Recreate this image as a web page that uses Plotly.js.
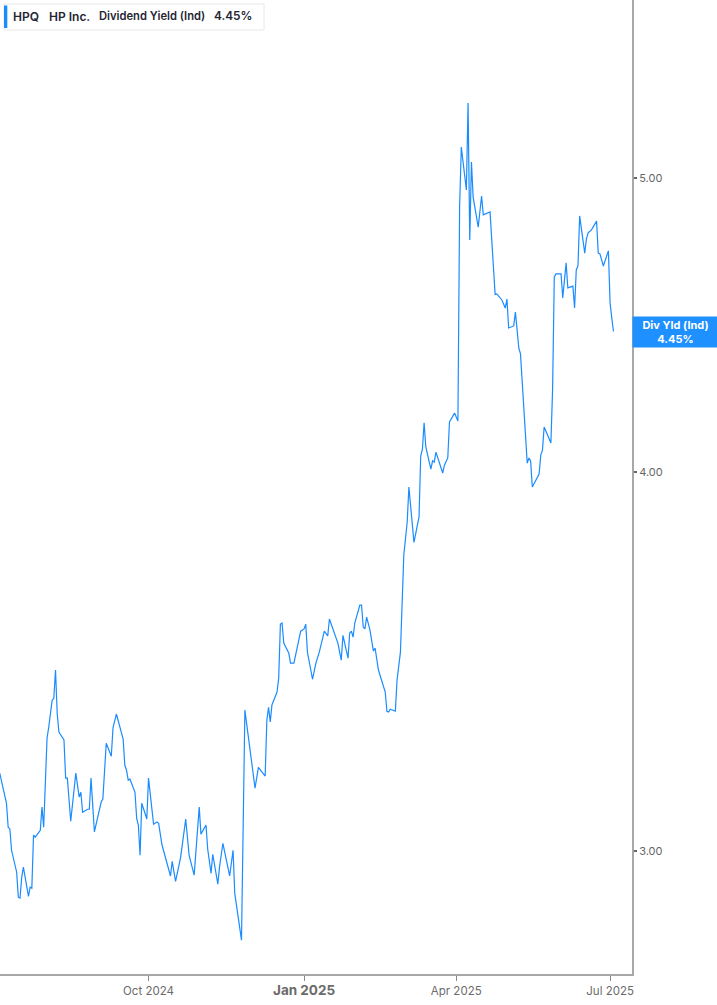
<!DOCTYPE html>
<html>
<head>
<meta charset="utf-8">
<script src="https://cdn.plot.ly/plotly-3.0.1.min.js"></script>
<style>
html,body{margin:0;padding:0;background:#fff;}
#chart{width:717px;height:1005px;}
</style>
</head>
<body>
<div id="chart"></div>
<script>
// Dividend yield (Ind), HPQ, percent
const dates = [
"2024-07-05","2024-07-08","2024-07-09","2024-07-10","2024-07-11","2024-07-12","2024-07-15","2024-07-16","2024-07-17","2024-07-18",
"2024-07-19","2024-07-22","2024-07-23","2024-07-24","2024-07-25","2024-07-26","2024-07-29","2024-07-30","2024-07-31","2024-08-02",
"2024-08-03","2024-08-05","2024-08-06","2024-08-07","2024-08-08","2024-08-09","2024-08-12","2024-08-13","2024-08-14","2024-08-16",
"2024-08-19","2024-08-21","2024-08-22","2024-08-23","2024-08-26","2024-08-27","2024-08-28","2024-08-30","2024-09-02","2024-09-03",
"2024-09-04","2024-09-06","2024-09-09","2024-09-10","2024-09-12","2024-09-14","2024-09-16","2024-09-17","2024-09-18","2024-09-19",
"2024-09-20","2024-09-23","2024-09-24","2024-09-25","2024-09-26","2024-09-27","2024-09-30","2024-10-01","2024-10-04","2024-10-06",
"2024-10-07","2024-10-09","2024-10-12","2024-10-14","2024-10-15","2024-10-17","2024-10-20","2024-10-23","2024-10-25","2024-10-28",
"2024-10-31","2024-11-01","2024-11-04","2024-11-05","2024-11-07","2024-11-08","2024-11-11","2024-11-12","2024-11-14","2024-11-18",
"2024-11-20","2024-11-21","2024-11-25","2024-11-27","2024-12-03","2024-12-05","2024-12-09","2024-12-10","2024-12-11","2024-12-12",
"2024-12-13","2024-12-16","2024-12-17","2024-12-18","2024-12-19","2024-12-20","2024-12-23","2024-12-24","2024-12-26","2024-12-30",
"2025-01-01","2025-01-02","2025-01-03","2025-01-06","2025-01-08","2025-01-10","2025-01-13","2025-01-15","2025-01-16","2025-01-21",
"2025-01-23","2025-01-24","2025-01-27","2025-01-28","2025-01-29","2025-01-30","2025-01-31","2025-02-03","2025-02-04","2025-02-05",
"2025-02-06","2025-02-07","2025-02-09","2025-02-11","2025-02-12","2025-02-14","2025-02-18","2025-02-19","2025-02-20","2025-02-21",
"2025-02-24","2025-02-25","2025-02-27","2025-03-01","2025-03-03","2025-03-04","2025-03-07","2025-03-10","2025-03-11","2025-03-12",
"2025-03-13","2025-03-14","2025-03-17","2025-03-18","2025-03-19","2025-03-20","2025-03-24","2025-03-25","2025-03-27","2025-03-28",
"2025-03-31","2025-04-02","2025-04-03","2025-04-04","2025-04-07","2025-04-08","2025-04-09","2025-04-10","2025-04-11","2025-04-14",
"2025-04-16","2025-04-17","2025-04-21","2025-04-22","2025-04-24","2025-04-25","2025-04-28","2025-04-30","2025-05-01","2025-05-02",
"2025-05-05","2025-05-06","2025-05-08","2025-05-09","2025-05-13","2025-05-14","2025-05-15","2025-05-16","2025-05-20","2025-05-21",
"2025-05-22","2025-05-23","2025-05-27","2025-05-28","2025-05-29","2025-05-30","2025-06-02","2025-06-03","2025-06-05","2025-06-06",
"2025-06-09","2025-06-10","2025-06-11","2025-06-12","2025-06-13","2025-06-16","2025-06-17","2025-06-18","2025-06-20","2025-06-23",
"2025-06-24","2025-06-25","2025-06-27","2025-06-30","2025-07-01","2025-07-02","2025-07-03"
];
const yieldPct = [
3.183,3.126,3.111,3.055,3.051,3.002,2.953,2.897,2.895,2.941,
2.964,2.899,2.919,2.917,3.037,3.032,3.048,3.102,3.055,3.269,
3.296,3.364,3.369,3.442,3.331,3.284,3.264,3.171,3.171,3.069,
3.183,3.126,3.137,3.090,3.097,3.097,3.171,3.044,3.102,3.114,
3.121,3.256,3.224,3.294,3.329,3.294,3.266,3.202,3.190,3.166,
3.169,3.137,3.076,3.060,2.991,3.111,3.074,3.171,3.062,3.067,
3.064,3.014,2.968,2.944,2.977,2.932,2.986,3.074,2.991,2.946,
3.102,3.039,3.060,3.005,2.950,2.993,2.926,2.964,3.018,2.944,
3.002,2.906,2.804,3.339,3.147,3.197,3.176,3.314,3.346,3.309,
3.352,3.385,3.421,3.564,3.567,3.513,3.486,3.460,3.460,3.545,
3.551,3.564,3.489,3.418,3.460,3.489,3.545,3.532,3.578,3.513,
3.468,3.534,3.473,3.540,3.545,3.529,3.567,3.616,3.616,3.556,
3.551,3.583,3.548,3.492,3.500,3.442,3.385,3.336,3.334,3.341,
3.336,3.416,3.489,3.756,3.851,3.955,3.792,3.866,4.049,4.070,
4.152,4.077,4.009,4.034,4.030,4.061,3.997,4.021,4.043,4.155,
4.183,4.158,4.891,5.119,4.955,5.293,4.770,5.061,4.928,4.817,
4.932,4.862,4.873,4.770,4.577,4.579,4.558,4.530,4.561,4.462,
4.469,4.516,4.395,4.375,4.027,4.043,4.034,3.955,3.994,4.052,
4.067,4.139,4.089,4.260,4.638,4.649,4.649,4.565,4.688,4.600,
4.606,4.530,4.663,4.677,4.858,4.723,4.774,4.796,4.807,4.839,
4.723,4.720,4.677,4.731,4.547,4.496,4.45
];
const yTickVals = [3, 4, 5];
const xTickVals = ["2024-10-01","2025-01-01","2025-04-01","2025-07-01"];
const xTickText = ["Oct 2024","<b><span style=\"font-size:13.5px;\">Jan 2025</span></b>","Apr 2025","Jul 2025"];
const ticker = "HPQ";
const company = "HP Inc.";
const metric = "Dividend Yield (Ind)";
const lastLabel = "Div Yld (Ind)";
const lastValue = yieldPct[yieldPct.length - 1];

const W = 632, H = 974; // plot area in px
const px = v => v / W;
const py = v => 1 - v / H;

const trace = {
  x: dates, y: yieldPct, type: 'scatter', mode: 'lines',
  line: {color: '#1a8cff', width: 1.2},
  hoverinfo: 'skip'
};

function legendText(x, t, size) {
  return {xref: 'paper', yref: 'paper', x: px(x), y: py(16.5), xanchor: 'left', yanchor: 'middle',
          showarrow: false, text: t, borderpad: 0, borderwidth: 0,
          font: {family: 'Inter, Roboto, sans-serif', size: size, color: '#1f2533', weight: 600}};
}

const layout = {
  width: 717, height: 1005,
  margin: {l: 0, r: 85, t: 0, b: 31, pad: 0},
  paper_bgcolor: '#fff', plot_bgcolor: '#fff',
  showlegend: false,
  font: {family: 'Inter, Roboto, sans-serif', color: '#666'},
  xaxis: {
    type: 'date',
    range: ['2024-07-05 04:00', '2025-07-13 23:00'],
    tickvals: xTickVals, ticktext: xTickText,
    showgrid: false, zeroline: false,
    showline: true, linecolor: '#a8a8a8', linewidth: 2,
    ticks: 'outside', ticklen: 5, tickwidth: 1, tickcolor: '#888',
    tickfont: {size: 11.5, color: '#6b6b6b'},
    fixedrange: true
  },
  yaxis: {
    type: 'log', side: 'right',
    range: [Math.log10(2.733), Math.log10(5.723)],
    tickvals: yTickVals, tickformat: '.2f', ticksuffix: '%',
    showgrid: false, zeroline: false,
    showline: true, linecolor: '#a8a8a8', linewidth: 2,
    ticks: 'outside', ticklen: 3, tickwidth: 2, tickcolor: '#666',
    tickfont: {size: 11, color: '#666'},
    fixedrange: true
  },
  shapes: [
    {type: 'rect', xref: 'paper', yref: 'paper', x0: px(4), x1: px(264), y0: py(30), y1: py(4),
     fillcolor: '#fff', line: {color: '#e8e8e8', width: 1}, layer: 'above'},
    {type: 'rect', xref: 'paper', yref: 'paper', x0: px(4), x1: px(7.3), y0: py(28), y1: py(5.5),
     fillcolor: '#1a8cff', line: {width: 0}, layer: 'above'}
  ],
  annotations: [
    legendText(12.5, ticker, 12),
    legendText(48.5, company, 12),
    legendText(98.5, metric, 11.2),
    legendText(214.5, lastValue.toFixed(2) + '%', 11.8),
    {xref: 'paper', yref: 'y', x: 1, y: Math.log10(lastValue), xanchor: 'left', yanchor: 'middle', showarrow: false,
     text: '<b>' + lastLabel + '</b><br><b>' + lastValue.toFixed(2) + '%</b>',
     font: {size: 11, color: '#fff'}, bgcolor: '#1e90ff', width: 85, height: 30, borderpad: 0, align: 'center'}
  ]
};

Plotly.newPlot('chart', [trace], layout, {staticPlot: true, displayModeBar: false});
</script>
</body>
</html>
